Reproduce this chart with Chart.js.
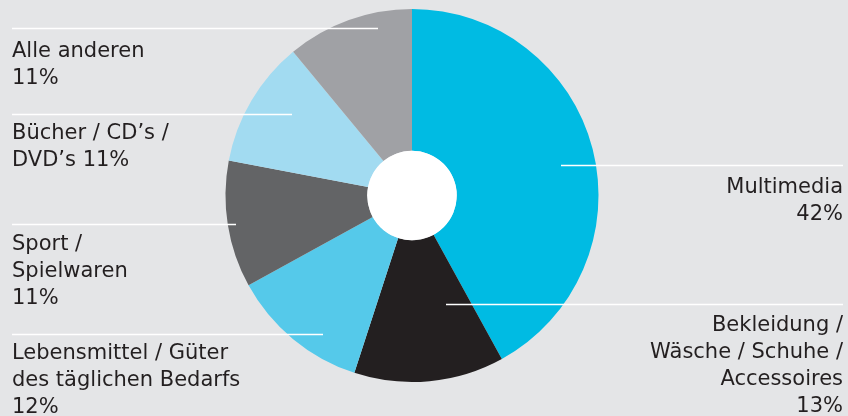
<!DOCTYPE html>
<html>
<head>
<meta charset="utf-8">
<script src="https://cdn.jsdelivr.net/npm/chart.js@4/dist/chart.umd.min.js"></script>
<style>
  html, body { margin: 0; padding: 0; background: #e4e5e7; }
  #wrap { width: 848px; height: 416px; position: relative; }
</style>
</head>
<body>
<div id="wrap"><canvas id="grafico"></canvas></div>
<script>
// Daten
const categories = ['Multimedia', 'Bekleidung / Wäsche / Schuhe / Accessoires', 'Lebensmittel / Güter des täglichen Bedarfs', 'Sport / Spielwaren', 'Bücher / CD’s / DVD’s', 'Alle anderen'];
const shares = [42, 13, 12, 11, 11, 11];
const labelLines = [
  ['Multimedia', '{p}'],
  ['Bekleidung /', 'Wäsche / Schuhe /', 'Accessoires', '{p}'],
  ['Lebensmittel / Güter', 'des täglichen Bedarfs', '{p}'],
  ['Sport /', 'Spielwaren', '{p}'],
  ['Bücher / CD’s /', 'DVD’s {p}'],
  ['Alle anderen', '{p}']
];
const colors = ['#00bbe3', '#231f20', '#55c9ea', '#636466', '#a2dbf1', '#a0a1a5'];

// Position der Beschriftungen (Linie + Text)
const callouts = [
  { side: 'right', y: 165.5, x1: 561, x2: 843, base: 193 },
  { side: 'right', y: 304.5, x1: 446, x2: 843, base: 331 },
  { side: 'left', y: 334.5, x1: 12, x2: 323, base: 359 },
  { side: 'left', y: 224.5, x1: 12, x2: 236, base: 250 },
  { side: 'left', y: 114.5, x1: 12, x2: 292, base: 139 },
  { side: 'left', y: 28.5, x1: 12, x2: 378, base: 57 }
];

const beschriftung = {
  id: 'beschriftung',
  afterDatasetsDraw(chart) {
    const ctx = chart.ctx;
    const arc = chart.getDatasetMeta(0).data[0];
    ctx.save();
    // weisses Loch in der Mitte
    ctx.fillStyle = '#ffffff';
    ctx.beginPath();
    ctx.arc(arc.x, arc.y, arc.innerRadius, 0, Math.PI * 2);
    ctx.fill();
    ctx.font = '21px "DejaVu Sans", Verdana, sans-serif';
    ctx.textBaseline = 'alphabetic';
    callouts.forEach((c, i) => {
      ctx.strokeStyle = '#ffffff';
      ctx.lineWidth = 1.5;
      ctx.beginPath();
      ctx.moveTo(c.x1, c.y);
      ctx.lineTo(c.x2, c.y);
      ctx.stroke();
      ctx.fillStyle = '#231f20';
      ctx.textAlign = c.side === 'right' ? 'right' : 'left';
      const tx = c.side === 'right' ? c.x2 : c.x1;
      labelLines[i].forEach((t, j) => {
        ctx.fillText(t.replace('{p}', shares[i] + '%'), tx, c.base + j * 27);
      });
    });
    ctx.restore();
  }
};

window.addEventListener('load', () => {
  new Chart(document.getElementById('grafico'), {
    type: 'doughnut',
    data: {
      labels: categories,
      datasets: [{
        data: shares,
        backgroundColor: colors,
        borderWidth: 0
      }]
    },
    options: {
      responsive: true,
      maintainAspectRatio: false,
      animation: false,
      cutout: '24%',
      layout: { padding: { top: 9, bottom: 34, left: 0, right: 24 } },
      plugins: {
        legend: { display: false },
        tooltip: { enabled: false }
      }
    },
    plugins: [beschriftung]
  });
});
</script>
</body>
</html>
